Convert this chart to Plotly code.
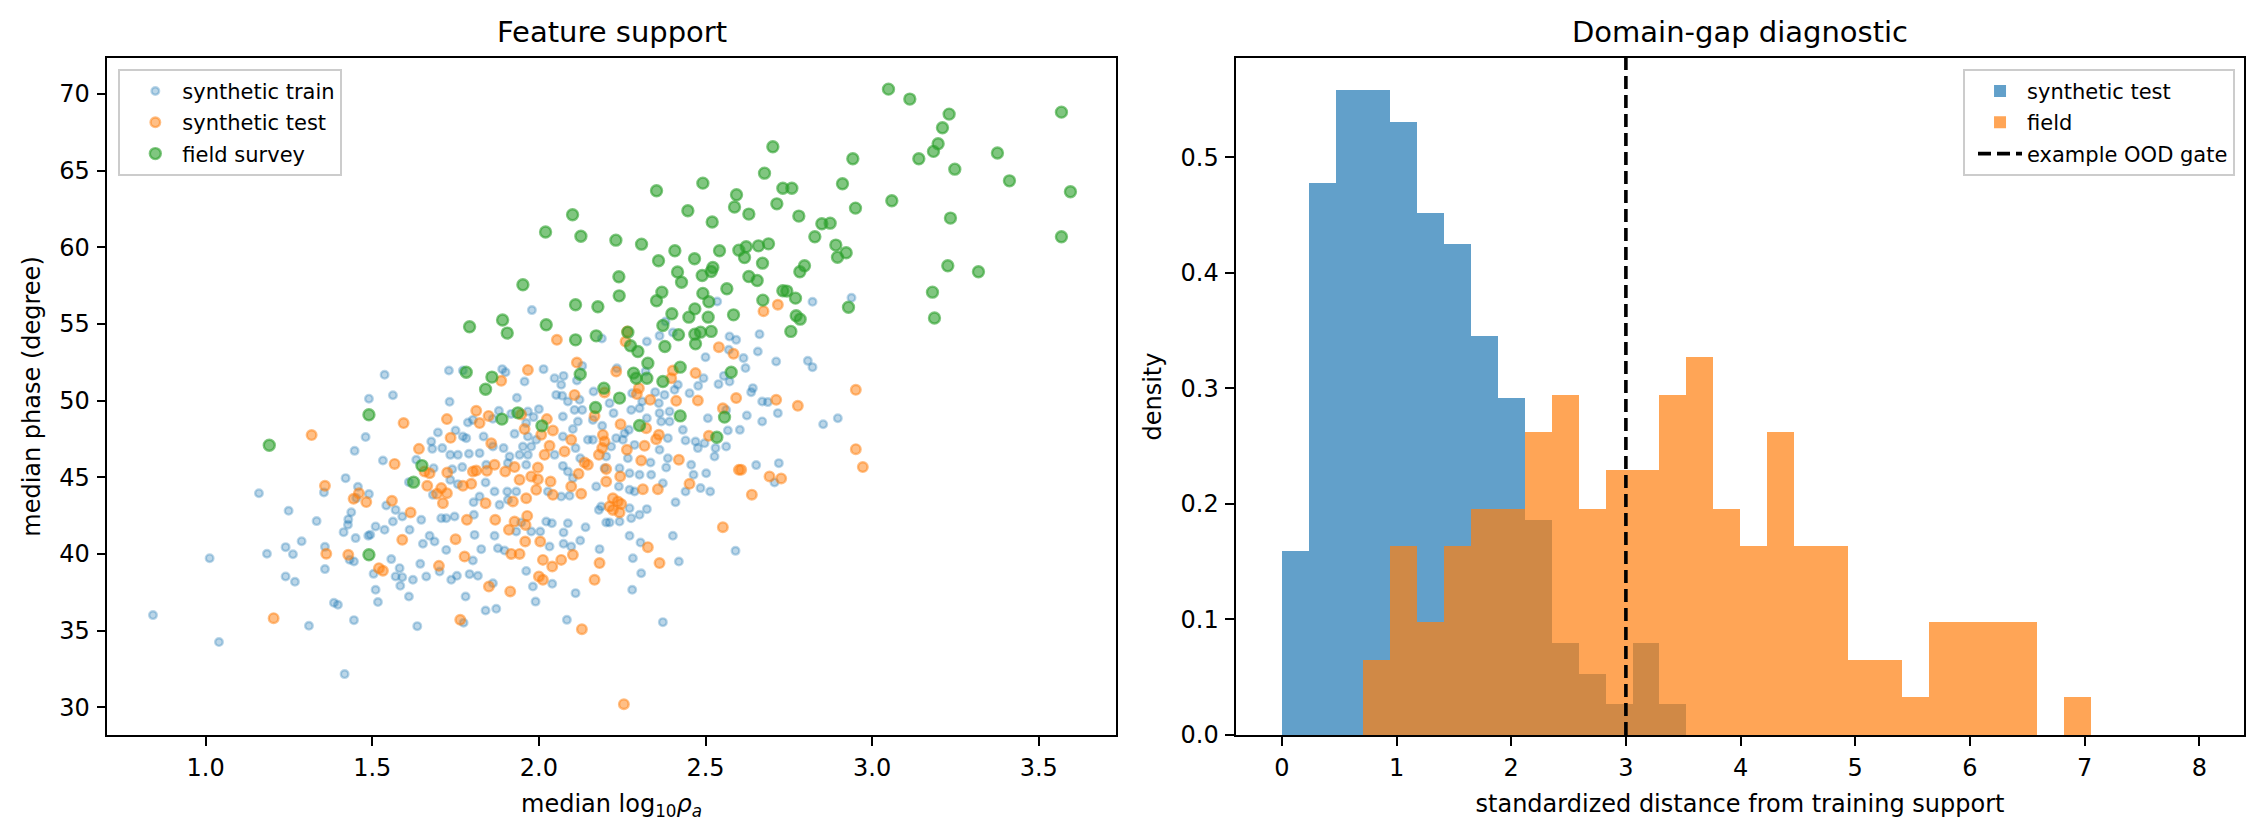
import numpy as np
import plotly.graph_objects as go

# ==========================================
# 1. Data
# ==========================================
# left panel: (median log10 rho_a, median phase) per sample
train_xy = [
    (1.490, 50.13), (2.938, 56.71), (2.821, 56.45), (2.807, 52.60), (2.821, 52.19), (2.897, 48.86),
    (2.853, 48.47), (2.720, 45.93), (1.979, 55.91), (2.535, 56.47), (2.189, 54.06), (2.362, 54.23),
    (2.402, 54.45), (2.380, 55.17), (2.572, 54.19), (2.592, 53.97), (2.662, 54.34), (2.657, 53.21),
    (2.712, 52.56), (2.614, 52.78), (2.620, 52.13), (2.642, 50.82), (2.637, 50.56), (2.670, 49.95),
    (2.687, 49.91), (2.717, 49.19), (2.624, 49.04), (2.670, 48.65),
    (1.480, 47.63), (1.447, 46.73), (1.420, 44.95), (1.457, 44.39), (1.490, 43.91), (1.452, 43.65),
    (1.355, 44.02), (1.160, 43.97), (1.249, 42.82), (1.333, 42.15), (1.437, 42.73), (1.428, 42.26),
    (1.427, 41.91), (1.414, 41.43), (1.450, 41.04), (1.510, 41.80), (1.488, 41.19), (1.494, 41.26),
    (1.288, 40.84), (1.240, 40.45), (1.262, 39.99), (1.184, 40.02), (1.358, 40.47), (1.012, 39.73),
    (1.358, 39.02), (1.432, 39.63), (1.445, 39.52), (1.240, 38.54), (1.268, 38.19), (1.385, 36.82),
    (1.397, 36.69), (1.310, 35.32), (1.445, 35.69), (0.842, 36.02), (1.040, 34.26), (1.417, 32.17),
    (1.504, 38.71), (1.510, 37.67), (1.517, 36.87), (1.635, 35.30),
    (2.652, 45.80), (2.707, 44.67), (2.603, 48.10), (1.774, 35.52), (2.084, 35.71), (2.372, 35.56),
    (1.840, 36.32), (1.872, 36.43),
    (1.537, 51.69), (1.730, 51.97), (1.772, 51.97), (1.890, 52.06), (1.900, 51.86), (2.014, 52.06),
    (1.957, 51.25), (2.047, 51.47), (1.562, 50.36), (2.052, 50.38), (1.732, 49.93), (1.934, 50.19),
    (1.880, 49.34), (1.917, 49.14), (1.967, 49.30), (2.000, 49.45), (1.787, 48.58), (1.802, 48.75),
    (1.862, 48.82), (1.984, 48.93), (1.962, 48.54), (1.697, 47.93), (1.750, 48.06), (1.772, 47.67),
    (1.782, 47.56), (1.834, 47.67), (1.927, 47.84), (1.967, 47.67), (1.992, 47.45), (1.677, 47.34),
    (1.680, 46.86), (1.710, 46.91), (1.862, 47.01), (1.894, 46.91), (1.822, 46.58), (1.790, 46.54),
    (1.734, 46.47), (1.757, 46.47), (1.952, 47.01), (1.977, 47.01), (1.912, 46.36), (1.942, 46.47),
    (1.967, 46.47), (2.047, 46.47), (1.532, 46.10), (1.632, 46.15), (1.684, 45.60), (1.740, 45.53),
    (1.770, 45.67), (1.907, 45.93), (1.842, 45.82), (1.962, 45.82), (1.610, 44.69), (1.682, 43.86),
    (1.734, 44.84), (1.757, 44.56), (1.840, 44.67), (1.822, 43.75), (1.867, 44.08), (1.905, 44.08),
    (1.907, 43.54), (1.882, 43.21), (2.027, 44.08), (1.932, 44.08), (1.804, 43.38), (1.542, 43.17),
    (1.570, 42.88), (1.590, 42.45), (1.647, 42.23), (1.707, 42.34), (1.722, 42.34), (1.747, 42.45),
    (1.805, 42.56), (1.947, 42.06), (2.022, 42.12), (2.039, 42.01), (1.537, 41.58), (1.562, 42.12),
    (1.612, 41.58), (1.672, 41.19), (1.687, 40.82), (1.652, 40.67), (1.807, 41.25), (1.867, 41.19),
    (1.932, 41.47), (1.977, 41.47), (2.004, 41.47), (1.722, 40.27), (1.827, 40.32), (1.877, 40.38),
    (1.897, 40.23), (2.032, 40.49), (1.802, 39.58), (1.557, 39.67), (1.582, 39.08), (1.644, 39.36),
    (1.702, 38.86), (1.590, 38.49), (1.622, 38.32), (1.570, 38.54), (1.662, 38.54), (1.737, 38.32),
    (1.754, 38.58), (1.792, 38.69), (1.817, 38.58), (1.962, 38.90), (1.982, 37.88), (2.040, 38.06),
    (1.584, 37.93), (1.862, 38.10), (1.610, 37.23), (1.780, 37.23), (1.990, 36.90),
    (2.324, 53.86), (2.570, 53.32), (2.500, 52.84), (2.130, 52.27), (2.320, 51.91), (2.234, 52.12),
    (2.417, 51.04), (2.555, 51.62), (2.572, 51.25), (2.539, 51.08), (2.494, 51.47), (2.074, 51.62),
    (2.067, 51.04), (2.114, 51.32), (2.164, 50.60), (2.122, 50.06), (2.087, 49.95), (2.107, 49.40),
    (2.130, 49.40), (2.280, 50.49), (2.349, 50.56), (2.310, 49.95), (2.360, 49.84), (2.407, 50.71),
    (2.377, 50.38), (2.452, 50.49), (2.478, 50.97), (2.562, 49.40), (2.212, 49.84), (2.277, 49.40),
    (2.302, 49.51), (2.392, 49.30), (2.362, 49.19), (2.507, 48.86), (2.224, 49.19), (2.070, 50.32),
    (2.324, 48.86), (2.367, 48.64), (2.392, 48.64), (2.270, 48.10), (2.257, 47.88), (2.190, 48.36),
    (2.162, 48.75), (2.117, 48.64), (2.102, 48.15), (2.072, 48.97), (2.432, 48.10), (2.567, 48.06),
    (2.387, 47.56), (2.440, 47.41), (2.470, 47.34), (2.497, 47.23), (2.562, 47.01), (2.530, 46.91),
    (2.477, 46.91), (2.147, 47.45), (2.162, 47.45), (2.072, 47.67), (2.232, 47.56), (2.252, 47.45),
    (2.217, 47.01), (2.287, 47.12), (2.362, 46.80), (2.110, 46.91), (2.202, 46.36), (2.267, 46.25),
    (2.335, 45.97), (2.387, 46.25), (2.457, 45.82), (2.527, 46.36), (2.382, 45.64), (2.124, 46.25),
    (2.072, 45.75), (2.087, 45.38), (2.197, 45.60), (2.242, 45.60), (2.302, 45.17), (2.337, 45.17),
    (2.272, 45.27), (2.102, 44.95), (2.502, 45.27), (2.464, 45.17), (2.172, 44.41), (2.240, 44.41),
    (2.372, 44.62), (2.440, 44.08), (2.485, 44.30), (2.514, 44.08), (2.067, 43.75), (2.092, 43.80),
    (2.272, 44.19), (2.287, 44.08), (2.187, 43.10), (2.180, 42.88), (2.272, 42.99), (2.324, 42.93),
    (2.302, 42.56), (2.277, 42.34), (2.410, 43.38), (2.212, 42.06), (2.202, 42.06), (2.242, 42.12),
    (2.087, 42.01), (2.074, 41.41), (2.140, 41.75), (2.272, 41.19), (2.402, 41.19), (2.305, 40.75),
    (2.124, 40.88), (2.074, 40.67), (2.097, 40.49), (2.182, 40.32), (2.590, 40.21), (2.282, 39.73),
    (2.420, 39.51), (2.307, 38.75), (2.110, 37.45), (2.280, 37.67),
]

test_xy = [
    (2.951, 50.71), (2.777, 49.67), (2.951, 46.84), (2.972, 45.67), (2.607, 45.50), (2.692, 45.06),
    (2.727, 44.93), (2.639, 43.87), (1.764, 35.71), (2.129, 35.10), (2.255, 30.21), (2.054, 53.97),
    (2.265, 54.52), (2.674, 55.84), (2.717, 56.26), (2.712, 50.06), (1.318, 47.76), (1.358, 44.45),
    (1.444, 43.60), (1.460, 43.97), (1.482, 43.39), (1.362, 40.02), (1.428, 39.95), (1.520, 39.08),
    (1.532, 38.91), (1.204, 35.82),
    (1.967, 52.01), (1.887, 51.30), (1.812, 49.34), (1.947, 49.10), (1.849, 49.01), (1.822, 48.54),
    (1.724, 48.80), (1.594, 48.54), (2.024, 48.80), (2.042, 48.06), (1.735, 47.58), (1.957, 48.15),
    (2.007, 47.78), (1.640, 46.86), (1.857, 47.23), (2.032, 47.06), (2.017, 46.47), (1.567, 45.88),
    (1.657, 45.38), (1.672, 45.27), (1.725, 45.32), (1.802, 45.38), (1.812, 45.45), (1.844, 45.43),
    (1.867, 45.82), (1.899, 45.38), (1.927, 45.67), (1.997, 45.64), (1.977, 45.06), (1.997, 44.88),
    (2.035, 44.73), (1.942, 44.84), (1.665, 44.45), (1.707, 44.30), (1.724, 43.97), (1.694, 43.93),
    (1.712, 43.32), (1.772, 44.45), (1.797, 44.58), (1.840, 43.32), (1.922, 43.43), (1.962, 43.64),
    (1.992, 44.19), (2.042, 43.86), (1.559, 43.47), (1.615, 42.71), (1.784, 42.23), (1.869, 42.23),
    (1.927, 42.12), (1.965, 42.49), (1.960, 41.90), (1.590, 40.93), (1.750, 40.97), (1.910, 41.58),
    (1.959, 40.82), (2.004, 40.82), (1.777, 39.84), (1.917, 40.01), (1.942, 40.01), (2.012, 39.62),
    (2.040, 39.19), (1.700, 39.23), (2.000, 38.54), (2.012, 38.32), (1.850, 37.88), (1.914, 37.56),
    (2.260, 53.86), (2.540, 53.49), (2.584, 53.06), (2.114, 52.49), (2.232, 51.90), (2.402, 51.97),
    (2.397, 51.47), (2.470, 51.80), (2.197, 50.54), (2.107, 50.38), (2.300, 50.82), (2.294, 50.43),
    (2.334, 50.06), (2.412, 49.99), (2.477, 50.01), (2.592, 50.17), (2.552, 49.51), (2.167, 49.01),
    (2.245, 48.47), (2.322, 48.21), (2.510, 47.71), (2.360, 47.78), (2.352, 47.49), (2.192, 47.77),
    (2.197, 47.34), (2.097, 47.45), (2.317, 47.06), (2.264, 46.80), (2.190, 46.91), (2.077, 46.69),
    (2.180, 46.47), (2.307, 46.10), (2.420, 46.15), (2.600, 45.49), (2.137, 45.97), (2.147, 45.82),
    (2.202, 45.54), (2.119, 45.23), (2.244, 45.06), (2.202, 44.73), (2.312, 44.23), (2.357, 44.23),
    (2.452, 44.58), (2.097, 44.41), (2.127, 43.93), (2.222, 43.64), (2.237, 43.43), (2.247, 43.27),
    (2.212, 43.10), (2.222, 42.88), (2.242, 42.71), (2.552, 41.75), (2.102, 39.95), (2.327, 40.45),
    (2.067, 39.62), (2.182, 39.41), (2.362, 39.41), (2.167, 38.32),
]

field_xy = [
    (1.490, 49.08), (1.191, 47.10), (1.490, 39.95),
    (3.049, 70.32), (3.113, 69.67), (3.231, 68.69), (3.211, 67.80), (3.198, 66.76), (3.184, 66.26),
    (3.376, 66.15), (3.140, 65.78), (3.248, 65.10), (3.568, 68.82), (3.412, 64.34), (3.595, 63.63),
    (2.942, 65.78), (2.911, 64.15), (3.059, 63.04), (2.950, 62.56), (3.235, 61.91), (3.568, 60.69),
    (2.732, 63.86), (2.759, 63.86), (2.780, 62.04), (2.849, 61.54), (2.874, 61.58), (2.828, 60.69),
    (2.891, 60.15), (2.896, 59.36), (2.922, 59.65), (2.797, 58.80), (2.783, 58.41), (3.227, 58.80),
    (3.319, 58.41), (3.181, 57.08), (3.187, 55.39), (2.732, 57.17), (2.744, 57.15), (2.770, 56.69),
    (2.772, 55.54), (2.784, 55.32), (2.756, 54.52), (2.929, 56.10),
    (2.702, 66.56), (2.677, 64.84), (2.492, 64.19), (2.353, 63.69), (2.593, 63.43), (2.587, 62.63),
    (2.630, 62.17), (2.714, 62.84), (2.447, 62.39), (2.520, 61.65), (2.101, 62.13), (2.020, 61.00),
    (2.126, 60.73), (2.231, 60.47), (2.308, 60.21), (2.408, 59.78), (2.359, 59.13), (2.467, 59.26),
    (2.542, 59.78), (2.600, 59.82), (2.622, 60.04), (2.617, 59.34), (2.659, 60.10), (2.689, 60.23),
    (2.671, 58.97), (2.416, 58.39), (2.428, 57.73), (2.490, 58.17), (2.517, 58.43), (2.522, 58.69),
    (2.630, 58.10), (2.655, 57.84), (2.240, 58.08), (2.241, 56.84), (2.369, 57.08), (2.353, 56.52),
    (2.492, 57.00), (2.510, 56.45), (2.564, 57.30), (2.672, 56.56), (1.952, 57.56), (2.110, 56.26),
    (2.177, 56.13), (2.399, 55.67), (2.450, 55.45), (2.468, 55.99), (2.508, 55.45), (2.584, 55.60),
    (2.372, 54.91), (1.891, 55.26), (1.792, 54.82), (1.905, 54.41), (2.022, 54.95), (2.110, 53.97),
    (2.172, 54.23), (2.267, 54.47), (2.468, 54.34), (2.485, 54.47), (2.517, 54.52), (2.419, 54.30),
    (1.782, 51.86), (1.859, 51.54), (1.840, 50.75), (1.889, 48.80), (1.937, 49.21), (2.009, 48.36),
    (1.649, 45.77), (1.624, 44.69),
    (2.470, 53.71), (2.378, 53.54), (2.275, 53.58), (2.297, 53.21), (2.327, 52.45), (2.124, 51.73),
    (2.284, 51.80), (2.292, 51.47), (2.324, 51.47), (2.424, 52.19), (2.372, 51.25), (2.577, 51.86),
    (2.195, 50.82), (2.242, 50.17), (2.170, 49.56), (2.557, 48.93), (2.424, 49.01), (2.302, 48.38),
    (2.534, 47.62),
]

# right panel: density histograms on shared bins (0 .. 7.056, 30 bins)
bin_edges = np.linspace(0.0, 7.056, 31)
test_density = [0.159, 0.478, 0.558, 0.558, 0.531, 0.452, 0.425, 0.345, 0.292, 0.186,
                0.080, 0.053, 0.027, 0.080, 0.027, 0, 0, 0, 0, 0,
                0, 0, 0, 0, 0, 0, 0, 0, 0, 0]
field_density = [0, 0, 0, 0.065, 0.164, 0.098, 0.164, 0.196, 0.196, 0.262,
                 0.294, 0.196, 0.229, 0.229, 0.294, 0.327, 0.196, 0.164, 0.262, 0.164,
                 0.164, 0.065, 0.065, 0.033, 0.098, 0.098, 0.098, 0.098, 0, 0.033]
ood_gate = 3.0

# ==========================================
# 2. Style
# ==========================================
FONT = "DejaVu Sans"
BLUE, ORANGE, GREEN = (31, 119, 180), (255, 127, 14), (44, 160, 44)


def rgba(c, a):
    return f"rgba({c[0]},{c[1]},{c[2]},{a})"


fig = go.Figure()


def add_points(pts, name, col, alpha, size):
    xs, ys = zip(*pts)
    fig.add_trace(go.Scatter(
        x=xs, y=ys, mode="markers", name=name, legend="legend", legendgroup=name,
        marker=dict(size=size, color=rgba(col, alpha),
                    line=dict(color=rgba(col, alpha), width=2.4)),
        xaxis="x", yaxis="y"))


add_points(train_xy, "synthetic train", BLUE, 0.3, 7.6)
add_points(test_xy, "synthetic test", ORANGE, 0.5, 9.6)
add_points(field_xy, "field survey", GREEN, 0.6, 11)

centers = (bin_edges[:-1] + bin_edges[1:]) / 2
bin_w = bin_edges[1] - bin_edges[0]
for dens, name, col in [(test_density, "synthetic test", BLUE), (field_density, "field", ORANGE)]:
    fig.add_trace(go.Bar(
        x=centers, y=dens, width=bin_w, name=name, legend="legend2", legendgroup=name,
        marker=dict(color=rgba(col, 0.7), line=dict(width=0)),
        xaxis="x2", yaxis="y2"))

fig.add_shape(type="line", x0=ood_gate, x1=ood_gate, xref="x2", yref="y2 domain", y0=0, y1=1,
              line=dict(color="black", width=3.6, dash="13px,6px"),
              showlegend=True, name="example OOD gate", legend="legend2", legendgroup="gate")

axis_common = dict(showline=True, mirror=True, linecolor="black", linewidth=2,
                   ticks="outside", ticklen=8.5, tickwidth=2, tickcolor="black",
                   showgrid=False, zeroline=False,
                   tickfont=dict(family=FONT, size=24, color="black"))

left_dom = [0, 0.4722]
right_dom = [0.5283, 1]

legend_common = dict(y=0.984, yanchor="top",
                     bgcolor="rgba(255,255,255,0.8)", bordercolor="#cccccc", borderwidth=2,
                     font=dict(family=FONT, size=21, color="black"),
                     traceorder="grouped", tracegroupgap=1, indentation=8, itemwidth=44)

fig.update_layout(
    width=2264, height=839, autosize=False,
    paper_bgcolor="white", plot_bgcolor="white",
    margin=dict(l=107, r=20, t=58, b=104),
    barmode="overlay", bargap=0,
    font=dict(family=FONT, size=24, color="black"),
    xaxis=dict(domain=left_dom, anchor="y", range=[0.704, 3.732],
               tickvals=[1.0, 1.5, 2.0, 2.5, 3.0, 3.5], tickformat=".1f", ticklabelstandoff=2,
               title=dict(text="median log<sub>10</sub><i>ρ</i><sub><i>a</i></sub>",
                          font=dict(size=24), standoff=14),
               **axis_common),
    yaxis=dict(domain=[0, 1], anchor="x", range=[28.2, 72.35],
               tickvals=[30, 35, 40, 45, 50, 55, 60, 65, 70], ticklabelstandoff=2,
               title=dict(text="median phase (degree)", font=dict(size=24), standoff=12),
               **axis_common),
    xaxis2=dict(domain=right_dom, anchor="y2", range=[-0.40, 8.39],
                tickvals=[0, 1, 2, 3, 4, 5, 6, 7, 8], ticklabelstandoff=2,
                title=dict(text="standardized distance from training support",
                           font=dict(size=24), standoff=14),
                **axis_common),
    yaxis2=dict(domain=[0, 1], anchor="x2", range=[0, 0.586],
                tickvals=[0, 0.1, 0.2, 0.3, 0.4, 0.5], tickformat=".1f", ticklabelstandoff=2,
                title=dict(text="density", font=dict(size=24), standoff=12),
                **axis_common),
    legend=dict(x=0.0053, xanchor="left", **legend_common),
    legend2=dict(x=0.9958, xanchor="right", **legend_common),
    annotations=[
        dict(text="Feature support", x=sum(left_dom) / 2, y=1, xref="paper", yref="paper",
             xanchor="center", yanchor="bottom", yshift=7, showarrow=False,
             font=dict(family=FONT, size=29, color="black")),
        dict(text="Domain-gap diagnostic", x=sum(right_dom) / 2, y=1, xref="paper", yref="paper",
             xanchor="center", yanchor="bottom", yshift=7, showarrow=False,
             font=dict(family=FONT, size=29, color="black")),
    ],
)

# page body margin off so the figure sits at the window's top-left corner; no modebar
fig.write_html("out.html", config={"displayModeBar": False},
               post_script="document.body.style.margin = '0';")
